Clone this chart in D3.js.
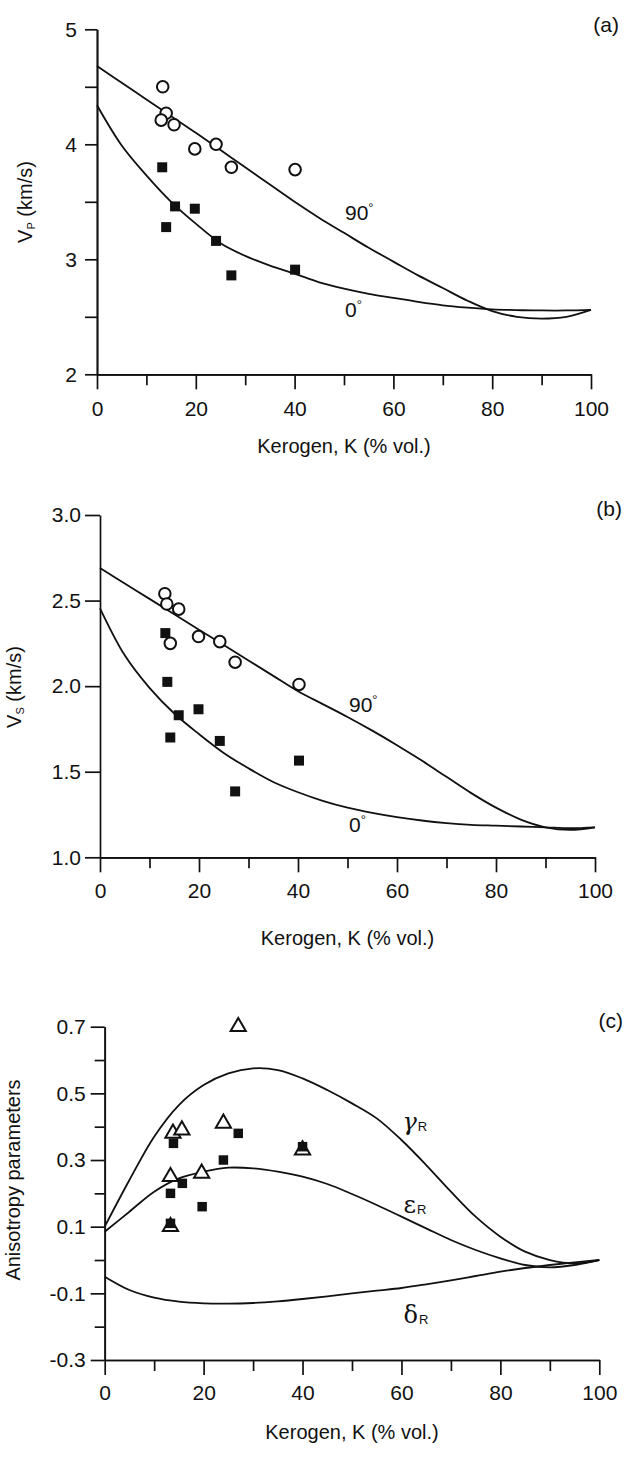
<!DOCTYPE html>
<html lang="en">
<head>
    <meta charset="UTF-8">
    <title>Kerogen velocity and anisotropy</title>
    <script src="https://d3js.org/d3.v7.min.js"></script>
    <style>
        body {
            background-color: #ffffff;
            margin: 0;
            padding: 0;
        }
        svg text {
            font-family: "Liberation Sans", Arial, Helvetica, sans-serif;
            fill: #111;
        }
        .axis path, .axis line {
            stroke: #111;
            stroke-width: 1.7px;
        }
        .curve {
            fill: none;
            stroke: #111;
            stroke-width: 1.8px;
        }
    </style>
</head>
<body>
    <svg id="chart"></svg>

    <script>
        const width = 626;
        const height = 1457;

        // kerogen content (% vol.) where the model curves are sampled
        const kerogenCurve = [0, 5, 10, 15, 20, 25, 30, 35, 40, 45, 50, 55, 60, 65, 70, 75, 80, 85, 90, 95, 100];

        // (a) P-wave velocity, km/s
        const vp90 = [4.68, 4.535, 4.39, 4.245, 4.10, 3.95, 3.80, 3.65, 3.50, 3.36, 3.23, 3.10, 2.98, 2.86, 2.75, 2.64, 2.55, 2.50, 2.485, 2.50, 2.56];
        const vp0 = [4.34, 3.99, 3.73, 3.50, 3.31, 3.14, 3.03, 2.945, 2.875, 2.80, 2.745, 2.70, 2.665, 2.63, 2.60, 2.58, 2.565, 2.558, 2.555, 2.555, 2.56];

        // (b) S-wave velocity, km/s
        const vs90 = [2.69, 2.60, 2.51, 2.42, 2.33, 2.24, 2.15, 2.06, 1.97, 1.895, 1.82, 1.74, 1.655, 1.565, 1.47, 1.375, 1.29, 1.22, 1.175, 1.16, 1.175];
        const vs0 = [2.455, 2.18, 1.99, 1.84, 1.72, 1.61, 1.52, 1.44, 1.38, 1.33, 1.29, 1.26, 1.235, 1.215, 1.20, 1.19, 1.185, 1.18, 1.175, 1.17, 1.175];

        // (c) anisotropy parameters
        const gammaR = [0.10, 0.24, 0.37, 0.465, 0.525, 0.56, 0.575, 0.57, 0.545, 0.51, 0.47, 0.425, 0.36, 0.285, 0.205, 0.13, 0.07, 0.025, 0.0, -0.01, 0.0];
        const epsilonR = [0.085, 0.145, 0.205, 0.245, 0.265, 0.277, 0.275, 0.265, 0.25, 0.228, 0.198, 0.165, 0.13, 0.095, 0.06, 0.03, 0.005, -0.015, -0.022, -0.015, 0.0];
        const deltaR = [-0.05, -0.09, -0.113, -0.125, -0.13, -0.131, -0.129, -0.124, -0.117, -0.109, -0.10, -0.092, -0.084, -0.073, -0.061, -0.048, -0.035, -0.024, -0.015, -0.007, 0.0];

        // measured samples
        const vpCircleK = [13.3, 14.0, 13.0, 15.6, 19.8, 24.1, 27.2, 40.1];
        const vpCircle = [4.50, 4.27, 4.21, 4.17, 3.96, 4.00, 3.80, 3.78];
        const vpSquareK = [13.2, 15.8, 19.8, 14.0, 24.1, 27.2, 40.1];
        const vpSquare = [3.80, 3.46, 3.44, 3.28, 3.16, 2.86, 2.91];

        const vsCircleK = [13.1, 13.5, 15.9, 14.2, 19.9, 24.2, 27.3, 40.2];
        const vsCircle = [2.54, 2.48, 2.45, 2.25, 2.29, 2.26, 2.14, 2.01];
        const vsSquareK = [13.2, 13.6, 15.9, 19.9, 14.2, 24.2, 27.3, 40.2];
        const vsSquare = [2.31, 2.025, 1.83, 1.865, 1.70, 1.68, 1.385, 1.565];

        const anTriangleK = [27.0, 13.8, 15.6, 24.0, 13.3, 19.6, 13.3, 40.0];
        const anTriangle = [0.70, 0.38, 0.39, 0.41, 0.25, 0.26, 0.10, 0.33];
        const anSquareK = [13.9, 27.0, 24.0, 15.7, 13.3, 19.7, 13.3, 40.0];
        const anSquare = [0.35, 0.38, 0.30, 0.23, 0.20, 0.16, 0.11, 0.34];

        // ticks
        const xMajorTicks = [0, 20, 40, 60, 80, 100];
        const xMinorTicks = [10, 30, 50, 70, 90];
        const vpTicks = [2, 3, 4, 5];
        const vpMinorTicks = [2.5, 3.5, 4.5];
        const vsTicks = [1.0, 1.5, 2.0, 2.5, 3.0];
        const anTicks = [-0.3, -0.1, 0.1, 0.3, 0.5, 0.7];
        const anMinorTicks = [-0.2, 0.0, 0.2, 0.4, 0.6];

        const svg = d3.select("#chart")
            .attr("width", width)
            .attr("height", height);

        const zip = (xs, ys) => xs.map((x, i) => [x, ys[i]]);

        function drawPanel(p) {
            const x = d3.scaleLinear().domain([0, 100]).range([p.left, p.right]);
            const y = d3.scaleLinear().domain(p.yDomain).range([p.bottom, p.top]);
            const g = svg.append("g");

            // x axis
            g.append("g").attr("class", "axis")
                .attr("transform", `translate(0,${p.bottom})`)
                .call(d3.axisBottom(x).tickValues(xMinorTicks).tickSize(11).tickSizeOuter(0).tickFormat(""));
            g.append("g").attr("class", "axis")
                .attr("transform", `translate(0,${p.bottom})`)
                .call(d3.axisBottom(x).tickValues(xMajorTicks).tickSize(15).tickSizeOuter(0).tickPadding(p.xPad))
                .selectAll("text").attr("font-size", "21px");

            // y axis
            if (p.yMinor) {
                g.append("g").attr("class", "axis")
                    .attr("transform", `translate(${p.left},0)`)
                    .call(d3.axisLeft(y).tickValues(p.yMinor).tickSize(p.minorSize).tickSizeOuter(0).tickFormat(""));
            }
            g.append("g").attr("class", "axis")
                .attr("transform", `translate(${p.left},0)`)
                .call(d3.axisLeft(y).tickValues(p.yTicks).tickSize(p.tickSize).tickSizeOuter(0)
                    .tickPadding(p.tickPad).tickFormat(p.fmt))
                .selectAll("text").attr("font-size", "21px");

            g.selectAll(".domain").attr("stroke-width", 1.8);

            // model curves
            const line = d3.line()
                .x(d => x(d[0]))
                .y(d => y(d[1]))
                .curve(d3.curveCatmullRom.alpha(0.5));
            p.curves.forEach(c => {
                g.append("path").attr("class", "curve").attr("d", line(zip(kerogenCurve, c)));
            });

            // samples
            p.points.forEach(s => {
                const sym = d3.symbol().type(s.type).size(s.size);
                g.selectAll(null)
                    .data(zip(s.k, s.v))
                    .enter().append("path")
                    .attr("d", sym)
                    .attr("transform", d => `translate(${x(d[0])},${y(d[1])})`)
                    .attr("fill", s.filled ? "#111" : "#fff")
                    .attr("stroke", "#111")
                    .attr("stroke-width", s.filled ? 0 : 2);
            });

            // x title
            g.append("text")
                .attr("x", (p.left + p.right) / 2)
                .attr("y", p.bottom + p.xTitleOffset)
                .attr("text-anchor", "middle")
                .attr("font-size", "20px")
                .text("Kerogen, K (% vol.)");

            // panel letter
            g.append("text")
                .attr("x", p.letterX)
                .attr("y", p.letterY)
                .attr("text-anchor", "end")
                .attr("font-size", "21px")
                .text(p.letter);

            return { g, x, y };
        }

        // (a)
        const a = drawPanel({
            left: 97, right: 591, top: 29.3, bottom: 374.3,
            yDomain: [2, 5], yTicks: vpTicks, yMinor: vpMinorTicks,
            tickSize: 12, minorSize: 12, tickPad: 8, fmt: d3.format("d"),
            curves: [vp90, vp0],
            points: [
                { k: vpCircleK, v: vpCircle, type: d3.symbolCircle, size: 105, filled: false },
                { k: vpSquareK, v: vpSquare, type: d3.symbolSquare, size: 100, filled: true }
            ],
            xPad: 12, xTitleOffset: 79, letter: "(a)", letterX: 619, letterY: 32
        });

        // (b)
        const b = drawPanel({
            left: 100, right: 595, top: 515, bottom: 857.3,
            yDomain: [1, 3], yTicks: vsTicks, yMinor: null,
            tickSize: 15, minorSize: 0, tickPad: 4, fmt: d => d.toFixed(1),
            curves: [vs90, vs0],
            points: [
                { k: vsCircleK, v: vsCircle, type: d3.symbolCircle, size: 105, filled: false },
                { k: vsSquareK, v: vsSquare, type: d3.symbolSquare, size: 100, filled: true }
            ],
            xPad: 11, xTitleOffset: 88, letter: "(b)", letterX: 622, letterY: 516
        });

        // (c)
        const c = drawPanel({
            left: 104.7, right: 599.3, top: 1026.7, bottom: 1360,
            yDomain: [-0.3, 0.7], yTicks: anTicks, yMinor: anMinorTicks,
            tickSize: 14, minorSize: 10, tickPad: 5, fmt: d => d.toFixed(1),
            curves: [gammaR, epsilonR, deltaR],
            points: [
                { k: anTriangleK, v: anTriangle, type: d3.symbolTriangle, size: 100, filled: false },
                { k: anSquareK, v: anSquare, type: d3.symbolSquare, size: 90, filled: true }
            ],
            xPad: 10, xTitleOffset: 79, letter: "(c)", letterX: 623, letterY: 1028
        });

        // y titles
        function yTitle(tx, ty, main, sub, rest) {
            const t = svg.append("text")
                .attr("transform", `translate(${tx},${ty}) rotate(-90)`)
                .attr("text-anchor", "middle")
                .attr("font-size", "20px");
            t.append("tspan").text(main);
            if (sub) {
                t.append("tspan").attr("font-size", "11px").attr("dy", 3).text(sub);
                t.append("tspan").attr("dy", -3).text(rest);
            }
        }
        yTitle(32, 202, "V", "P", " (km/s)");
        yTitle(21, 687, "V", "S", " (km/s)");
        yTitle(20, 1180, "Anisotropy parameters");

        // curve labels
        function curveLabel(panel, k, v, main, sub, greek) {
            const t = panel.g.append("text")
                .attr("x", panel.x(k))
                .attr("y", panel.y(v))
                .attr("font-size", greek ? "24px" : "21px");
            const m = t.append("tspan").text(main);
            if (greek) m.attr("font-family", "'DejaVu Serif', serif").attr("font-style", greek === "i" ? "italic" : "normal");
            if (sub === "°") {
                t.append("tspan").attr("font-size", "13px").attr("dy", -8).text("°");
            } else if (sub) {
                t.append("tspan").attr("font-size", "13px").attr("dy", 1).attr("dx", 1).text(sub);
            }
        }
        curveLabel(a, 50.2, 3.34, "90", "°");
        curveLabel(a, 50.2, 2.50, "0", "°");
        curveLabel(b, 50.3, 1.85, "90", "°");
        curveLabel(b, 50.3, 1.15, "0", "°");
        curveLabel(c, 60.2, 0.39, "γ", "R", "i");
        curveLabel(c, 60.4, 0.14, "ε", "R", "n");
        curveLabel(c, 60.4, -0.19, "δ", "R", "n");
    </script>
</body>
</html>
